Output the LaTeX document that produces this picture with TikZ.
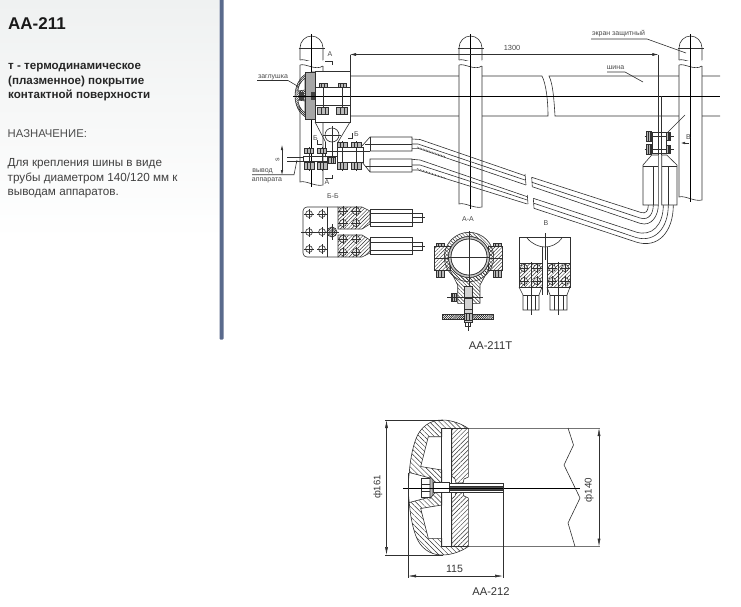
\documentclass[tikz,border=0pt]{standalone}
\usepackage{fontspec}
\setmainfont{Liberation Sans}
\usetikzlibrary{arrows.meta,patterns.meta}
\definecolor{barblue}{HTML}{5A6A8C}
\definecolor{panelgray}{HTML}{EFF1F1}
\definecolor{panelmid}{HTML}{F8F9F9}
\definecolor{inkgray}{HTML}{303030}
\definecolor{labelgray}{HTML}{484848}
\tikzset{
	ink/.style={draw=inkgray, line width=.6pt},
	axisline/.style={draw=black, line width=.65pt},
	hatchback/.style={pattern={Lines[angle=-45,distance=2.6pt,line width=.45pt]}, pattern color=inkgray},
	hatchfwd/.style={pattern={Lines[angle=45,distance=2.6pt,line width=.45pt]}, pattern color=inkgray},
	hatchdense/.style={pattern={Lines[angle=45,distance=1.5pt,line width=.5pt]}, pattern color=black},
	caphatch/.style={pattern={Lines[angle=-45,distance=3.5pt,line width=.45pt]}, pattern color=inkgray},
	dischatch/.style={pattern={Lines[angle=45,distance=3.2pt,line width=.45pt]}, pattern color=inkgray},
	dimline/.style={draw=inkgray, line width=.5pt, {Latex[length=8pt,width=3pt]}-{Latex[length=8pt,width=3pt]}},
	tinylabel/.style={font=\fontsize{7}{7.5}\selectfont, text=labelgray, inner sep=0.6pt},
	sidelabel/.style={font=\fontsize{11.3}{13}\selectfont, text=black!85, inner sep=0, anchor=west},
	caption/.style={font=\fontsize{11.2}{13}\selectfont, text=black!80, inner sep=0}
}
\newcommand{\postbar}[2] % axis x, lower end y
{
	\fill[white] ({#1-11.5},48) rectangle ({#1+11.5},#2);
	% dome and break
	\draw[ink] ({#1-11.5},60) -- ({#1-11.5},48) .. controls ({#1-11.5},41) and ({#1-6},36) .. (#1,36) .. controls ({#1+6},36) and ({#1+11.5},41) .. ({#1+11.5},48) -- ({#1+11.5},60);
	\draw[ink] ({#1-13},48) -- ({#1+13},48);
	\draw[ink] ({#1-11.5},60) .. controls ({#1-6},58) and ({#1+4},66) .. ({#1+11.5},61);
	\fill[white] ({#1-11.5},61) rectangle ({#1+11.5},65);
	\draw[ink] ({#1-11.5},65) .. controls ({#1-6},63) and ({#1+4},71) .. ({#1+11.5},66);
	% body
	\draw[ink] ({#1-11.5},65) -- ({#1-11.5},{#2-1}) .. controls ({#1-6},{#2-3}) and ({#1+4},{#2+4}) .. ({#1+11.5},{#2+2}) -- ({#1+11.5},66);
	\draw[axisline] (#1,34) -- (#1,{#2+4});
}
\newcommand{\nutbox}[4] % x, y, width, height
{
	\draw[ink, fill=gray!55] ({#1-#3/2},{#2-#4/2}) rectangle ({#1+#3/2},{#2+#4/2});
	\draw[ink] ({#1-#3/6},{#2-#4/2}) -- ({#1-#3/6},{#2+#4/2});
	\draw[ink] ({#1+#3/6},{#2-#4/2}) -- ({#1+#3/6},{#2+#4/2});
}
\newcommand{\boltcircle}[3] % x, y, radius
{
	\draw[ink, line width=.6pt, fill=white, fill opacity=.55] (#1,#2) circle (#3);
	\draw[ink] ({#1-#3-1.5},#2) -- ({#1+#3+1.5},#2);
	\draw[ink] (#1,{#2-#3-1.5}) -- (#1,{#2+#3+1.5});
}
\newcommand{\capupper}
{
	% cap wall and hub
	\draw[ink, caphatch] (468.3,428.5) .. controls (462,424) and (452,420) .. (442,420) .. controls (430,420) and (420,427) .. (415.5,440) .. controls (412,450) and (410,462) .. (409.3,472.5) -- (430,478) -- (441.7,487) -- (441.7,470) -- (420.7,466.5) -- (428.3,436.7) -- (441.7,436.7) -- (441.7,428.5) -- cycle;
	% disc
	\fill[white] (451.7,428.5) rectangle (468.3,478);
	\draw[ink, dischatch] (451.7,428.5) -- (468.3,428.5) -- (468.3,477) -- (464,479) -- (463,483) -- (456,483) -- (455,479) -- (451.7,476) -- cycle;
}
\begin{document}
\begin{tikzpicture}[x=1pt,y=-1pt]
	\useasboundingbox (0,0) rectangle (741,606);
	% side panel
	\shade[top color=panelgray, middle color=panelmid, bottom color=white] (0,0) rectangle (219,240);
	\fill[barblue, rounded corners=1pt] (219.5,-2) rectangle (223.5,339.5);
	\node[font=\bfseries\fontsize{17}{19}\selectfont, text=black!90, inner sep=0, anchor=base west] (title) at (8,29) {АА-211};
	\node[sidelabel, font=\bfseries\fontsize{11.6}{14.2}\selectfont, align=left, anchor=north west] (coating) at (8,63.5) {т - термодинамическое\\(плазменное) покрытие\\контактной поверхности};
	\node[sidelabel, text=black!70] (purpose) at (7.5,134) {НАЗНАЧЕНИЕ:};
	\node[sidelabel, font=\fontsize{11.7}{14.4}\selectfont, align=left, anchor=north west, text=black!75] (usage) at (7.5,158.5) {Для крепления шины в виде\\трубы диаметром 140/120 мм к\\выводам аппаратов.};

	% bus pipe
	\draw[ink] (350,76) -- (542,76) .. controls (546,84) and (548,100) .. (548,116) -- (350,116);
	\draw[ink] (720,76) -- (549,76) .. controls (553,84) and (554,100) .. (555,116) -- (720,116);
	\postbar{311.5}{183}
	\postbar{470.5}{205}
	\postbar{690.5}{198}
	\draw[axisline] (293,96) -- (720,96);

	% dimension 1300 and its extension lines
	\draw[ink] (350,54.5) -- (350,76);
	\draw[ink] (658.3,54.5) -- (658.3,132);
	\draw[ink] (661.7,96) -- (661.7,132);
	\draw[draw=inkgray, line width=.5pt, {Latex[length=6pt,width=3pt]}-{Latex[length=6pt,width=3pt]}] (350,54.5) -- (658.3,54.5);
	\draw[ink] (685,115) -- (667,133);
	\node[tinylabel, font=\fontsize{7.4}{8}\selectfont] (len) at (512,47.5) {1300};

	% leaders
	\node[tinylabel] (screen) at (618.5,33.5) {экран защитный};
	\coordinate (screenend) at (686,53);
	\draw[ink] (591,39) -- (647,39) -- (screenend);
	\node[tinylabel] (bus) at (615.5,67.5) {шина};
	\coordinate (busend) at (643,82);
	\draw[ink] (607,72) -- (625,72) -- (busend);
	\node[tinylabel] (plug) at (273,77) {заглушка};
	\coordinate (plugend) at (299,87);
	\draw[ink] (257,80.5) -- (288,80.5) -- (plugend);
	\node[tinylabel] (lead) at (262.5,171) {вывод};
	\node[tinylabel] (apparatus) at (267,180) {аппарата};
	\coordinate (leadend) at (297,160);
	\draw[ink] (252,174.7) -- (294,174.7) -- (leadend);

	% gap s
	\draw[ink] (287,157) -- (303,157);
	\draw[ink] (287,161) -- (303,161);
	\draw[draw=inkgray, line width=.5pt, {Latex[length=5pt,width=2.5pt]}-{Latex[length=5pt,width=2.5pt]}] (282,145) -- (282,175);
	\node[tinylabel, rotate=90] (gap) at (277.5,159.5) {s};

	% end cap
	\draw[ink, hatchdense] (312,72) .. controls (302,73) and (295,84) .. (295,96) .. controls (295,108) and (302,118) .. (312,119) -- (315,119) -- (315,72) -- cycle;
	\draw[ink, fill=white] (305,78) .. controls (300,82) and (298,87) .. (298,91) -- (305,90) -- cycle;
	\draw[ink, fill=white] (305,113) .. controls (300,109) and (298,104) .. (298,100) -- (305,101) -- cycle;
	\draw[ink, fill=gray!70] (305.5,72.5) rectangle (315,119);
	\fill[black!75] (299,92) rectangle (304,100);
	\fill[black!75] (311,92) rectangle (315,100);
	\draw[axisline] (293,96) -- (320,96);

	% bus clamp
	\draw[ink, fill=white] (315,71) rectangle (350,122);
	\draw[ink] (315,87.5) -- (350,87.5);
	\draw[axisline, line width=.9pt] (315,96) -- (350,96);
	\draw[ink] (315,105) -- (350,105);
	\draw[ink] (323,83) -- (323,112);
	\draw[ink] (342,83) -- (342,112);
	\nutbox{323}{85}{8}{4}
	\nutbox{342}{85}{8}{4}
	\nutbox{323}{110.5}{11}{7}
	\nutbox{342}{110.5}{11}{7}
	\draw[ink] (315,122) -- (325.5,142) -- (325.5,157);
	\draw[ink] (350,122) -- (338,142) -- (338,147);
	\draw[ink] (332,126) -- (332,156);
	\draw[ink] (332,135) circle (7);
	\draw[ink] (323,135) -- (341,135);

	% terminal plates
	\draw[ink] (303,156.5) rectangle (327,161);
	\draw[ink, fill=white] (337,147) rectangle (363,162);
	\draw[ink] (327,151) -- (370,151);
	\draw[ink] (327,156) -- (337,156);
	\draw[ink] (309,147) -- (309,171);
	\draw[ink] (322,147) -- (322,171);
	\draw[ink] (342,141) -- (342,171);
	\draw[ink] (356,141) -- (356,171);
	\nutbox{309}{151}{9}{5}
	\nutbox{322}{151}{9}{5}
	\nutbox{309}{165.5}{10}{7}
	\nutbox{322}{165.5}{10}{7}
	\nutbox{342}{144.5}{10}{5}
	\nutbox{356}{144.5}{10}{5}
	\nutbox{342}{165.5}{10}{7}
	\nutbox{356}{165.5}{10}{7}
	\nutbox{332}{160}{7}{6}

	% section marks
	\draw[ink, line width=.8pt] (325,61) -- (332,61) -- (332,64.5);
	\node[tinylabel] (markA) at (330,54.5) {А};
	\draw[ink, line width=.8pt] (325,178) -- (332,178) -- (332,175);
	\node[tinylabel] (markAb) at (327,182.5) {А};
	\draw[ink, line width=.8pt] (317,140) -- (317,144) -- (322,144);
	\node[tinylabel] (markB) at (315.5,138) {Б};
	\draw[ink, line width=.8pt] (352,133) -- (352,138) -- (348,138);
	\node[tinylabel] (markBb) at (356.5,134) {Б};
	\node[tinylabel] (markV) at (688.5,137) {В};
	\draw[draw=inkgray, line width=.5pt, -{Latex[length=4pt,width=2.5pt]}] (689,143) -- (681,143);

	% cable lugs
	\draw[ink] (362,146) -- (370,137) -- (412,137) -- (412,151) -- (370,151);
	\draw[ink] (370,137) -- (370,151);
	\draw[ink] (365,144) -- (412,144);
	\draw[ink] (362,162) -- (370,172) -- (412,172) -- (412,159) -- (370,159) -- (370,172);
	\draw[ink] (365,166) -- (412,166);

	% cables, upper run
	\draw[ink] (412,139) -- (420,139.5) -- (525,175.7);
	\draw[ink] (412,144) -- (418,144) -- (525,180);
	\draw[ink] (412,148.3) -- (418,148.3) -- (526,185);
	\draw[ink] (412,159.3) -- (420,160) -- (527.3,196.7);
	\draw[ink] (412,165) -- (420,165) -- (527.3,200);
	\draw[ink] (412,170) -- (418,170) -- (527.3,204);
	\draw[ink, densely dotted, line width=.8pt] (417,147) -- (445,156.5);
	\draw[ink, densely dotted, line width=.8pt] (417,168.5) -- (445,178);
	% cables, break
	\draw[ink] (525,174) -- (526,185);
	\draw[ink] (531.7,177.3) -- (532.3,186.7);
	\draw[ink] (527.3,195) -- (528,204);
	\draw[ink] (533.3,198.3) -- (534,208.3);
	% cables, lower run
	\draw[ink] (531.7,177.3) -- (641,212.5) .. controls (646,214) and (648.3,211) .. (648.3,205);
	\draw[ink] (532,182.3) -- (640,218) .. controls (650,221) and (653.3,212) .. (653.3,205);
	\draw[ink] (532.3,186.7) -- (640,223.3) .. controls (652,227) and (658.3,215) .. (658.3,205);
	\draw[ink] (533.3,198.3) -- (636,232) .. controls (652,237) and (663.3,225) .. (663.3,205);
	\draw[ink] (534,203.3) -- (636,237.5) .. controls (655,243) and (668.3,228) .. (668.3,205);
	\draw[ink] (534,208.3) -- (636,242) .. controls (658,249) and (673.3,232) .. (673.3,205);

	% right hand clamp
	\draw[ink, fill=white] (643,205) -- (643,165) -- (651.7,155) -- (658.3,155) -- (658.3,205) -- cycle;
	\draw[ink, fill=white] (677,205) -- (677,165) -- (666.7,155) -- (661.7,155) -- (661.7,205) -- cycle;
	\draw[ink] (643,166) -- (658.3,166);
	\draw[ink] (661.7,166) -- (677,166);
	\draw[ink] (653.3,166) -- (653.3,205);
	\draw[ink] (668.3,166) -- (668.3,205);
	\draw[ink] (652.7,132.7) rectangle (666,153);
	\draw[ink] (644.5,136.7) -- (674,136.7);
	\draw[ink] (644.5,149.3) -- (674,149.3);
	\draw[ink] (658.3,132) -- (658.3,155);
	\draw[ink] (661.7,132) -- (661.7,155);
	\nutbox{649}{136.7}{5}{10}
	\nutbox{649}{149.3}{5}{10}
	\nutbox{668.5}{136.7}{4}{8}
	\nutbox{668.5}{149.3}{4}{8}

	% section B-B
	\node[tinylabel] (secB) at (333,196) {Б-Б};
	\draw[ink, rounded corners=4pt] (338,207) -- (303,207) -- (303,257) -- (338,257);
	\draw[ink] (327,207) -- (327,257);
	\draw[ink] (301,232) -- (338,232);
	\draw[ink, hatchfwd] (338,207) -- (362,207) -- (370,211) -- (370,224) -- (362,229) -- (338,229) -- cycle;
	\draw[ink, hatchfwd] (338,235) -- (362,235) -- (370,240) -- (370,253) -- (362,257) -- (338,257) -- cycle;
	\draw[ink] (370,209) rectangle (412,226);
	\draw[ink] (370,237) rectangle (412,254);
	\draw[ink] (370,213) -- (422,213) -- (422,222) -- (370,222);
	\draw[ink] (370,242) -- (422,242) -- (422,250) -- (370,250);
	\draw[ink] (412,217.5) -- (425,217.5);
	\draw[ink] (412,246) -- (425,246);
	\foreach \holey in {214,232,249}
	{
		\boltcircle{309}{\holey}{3.4}
		\boltcircle{322}{\holey}{3.4}
	}
	\foreach \holey in {211,223,239,252}
	{
		\boltcircle{343}{\holey}{3.6}
		\boltcircle{356}{\holey}{3.6}
	}
	\draw[ink, hatchdense] (332,232) circle (5);
	\draw[ink] (325,232) -- (339,232);
	\draw[ink] (332,224) -- (332,240);

	% section A-A
	\node[tinylabel] (secA) at (468,219) {А-А};
	\draw[ink, hatchback] (450,270) -- (457.7,285) -- (457.7,303.3) -- (480,303.3) -- (480,285) -- (488.3,270) -- (488.3,250) -- (450,250) -- cycle;
	\draw[ink, hatchback, even odd rule] (469,257) circle (24.7) (469,257) circle (20.5);
	\draw[ink, hatchfwd] (434,246) rectangle (450,270);
	\draw[ink, hatchfwd] (488,246) rectangle (502,270);
	\draw[ink, fill=gray!45, even odd rule] (469,257) circle (20.5) (469,257) circle (18);
	\fill[white] (469,257) circle (17.8);
	\draw[ink] (469,257) circle (18);
	\draw[ink, line width=.9pt] (434,258) -- (449,258);
	\draw[ink, line width=.9pt] (489,258) -- (502,258);
	\nutbox{440}{244.5}{8}{3}
	\nutbox{497}{244.5}{8}{3}
	\nutbox{440}{273.5}{8}{7}
	\nutbox{497}{273.5}{8}{7}
	\draw[ink, hatchdense] (442,314) rectangle (493,319);
	\draw[ink, fill=gray!35] (464,286) rectangle (472,322);
	\draw[ink] (464,298) -- (472,298);
	\draw[ink] (464,309) -- (472,309);
	\nutbox{468}{316.5}{8}{7}
	\draw[ink] (465.5,322) -- (465.5,326) -- (470.5,326) -- (470.5,322);
	\nutbox{453.5}{297}{5}{8}
	\draw[ink] (447,297) -- (483,297);
	\draw[ink] (469,231) -- (469,286);
	\draw[ink] (468,322) -- (468,331);
	\draw[ink] (449,257) -- (489,257);

	% view B
	\node[tinylabel] (secV) at (546,223) {В};
	\draw[ink] (519,263) -- (519,237) -- (570,237) -- (570,263);
	\draw[ink] (527,238) .. controls (532,244) and (539,247) .. (545,247) .. controls (551,247) and (558,244) .. (562,238);
	\draw[ink] (545,233) -- (545,260);
	\draw[ink] (542,247) -- (542,263);
	\draw[ink] (547,247) -- (547,263);
	\draw[ink] (542,287) -- (542,295);
	\draw[ink] (547,287) -- (547,295);
	\draw[ink, hatchfwd] (519,263) rectangle (542,287);
	\draw[ink, hatchfwd] (547,263) rectangle (570,287);
	\foreach \holey in {268,281}
	{
		\boltcircle{524}{\holey}{3.6}
		\boltcircle{537}{\holey}{3.6}
		\boltcircle{552}{\holey}{3.6}
		\boltcircle{565}{\holey}{3.6}
	}
	\draw[ink] (519,287) -- (523,295) -- (523,310) -- (539,310) -- (539,295) -- (542,287);
	\draw[ink] (547,287) -- (550,295) -- (550,310) -- (567,310) -- (567,295) -- (570,287);
	\draw[ink] (523,295) -- (539,295);
	\draw[ink] (550,295) -- (567,295);
	\draw[ink] (527,295) -- (527,310);
	\draw[ink] (535,295) -- (535,310);
	\draw[ink] (554,295) -- (554,310);
	\draw[ink] (563,295) -- (563,310);
	\draw[ink] (531,262) -- (531,315);
	\draw[ink] (558,262) -- (558,315);

	\node[caption] (capt) at (490.5,345.5) {АА-211Т};

	% plug, pipe outline
	\draw[draw=black!55, line width=.9pt] (468,428) -- (600,428);
	\draw[draw=black!55, line width=.9pt] (468,546.5) -- (600,546.5);
	\draw[ink] (568,428) -- (573.5,445) -- (564,465) -- (580,498) -- (568,523) -- (575,546.5);
	% plug, cap and disc
	\capupper
	\begin{scope}[shift={(0,975)},yscale=-1]
		\capupper
	\end{scope}
	\draw[ink] (409.3,472.5) .. controls (408,482) and (408,493) .. (409.3,502.5);
	\draw[ink] (441.7,428.5) -- (441.7,546.5);
	\draw[ink] (451.7,428.5) -- (451.7,546.5);
	% plug, bolt
	\draw[ink, fill=white] (433,482.7) rectangle (449,492);
	\draw[ink, fill=white, line width=.9pt] (449,483) rectangle (503,492);
	\draw[ink, fill=black!70] (449,486) rectangle (503,490);
	\draw[ink, fill=white] (421.7,478) rectangle (430,497);
	\draw[ink] (421.7,484) -- (430,484);
	\draw[ink] (421.7,491) -- (430,491);
	\draw[ink, fill=gray!55] (430,476.5) -- (433,480) -- (433,495) -- (430,498.5) -- cycle;
	\draw[axisline] (403,488) -- (580,488);
	% plug, dimensions
	\draw[ink] (385,420) -- (443,420);
	\draw[ink] (385,555) -- (443,555);
	\draw[ink] (408,473) -- (408,578);
	\draw[ink] (503,483) -- (503,578);
	\draw[dimline] (386.5,420) -- (386.5,555);
	\draw[dimline] (599,428) -- (599,546.5);
	\draw[dimline] (408,576) -- (503,576);
	\node[caption, rotate=90, font=\fontsize{9.5}{12}\selectfont] (dia161) at (378,487) {ф161};
	\node[caption, rotate=90, font=\fontsize{9.8}{12}\selectfont] (dia140) at (589,490) {ф140};
	\node[caption, font=\fontsize{10.6}{12}\selectfont] (len115) at (454.5,569) {115};
	\node[caption] (capb) at (491,592) {АА-212};
\end{tikzpicture}
\end{document}
